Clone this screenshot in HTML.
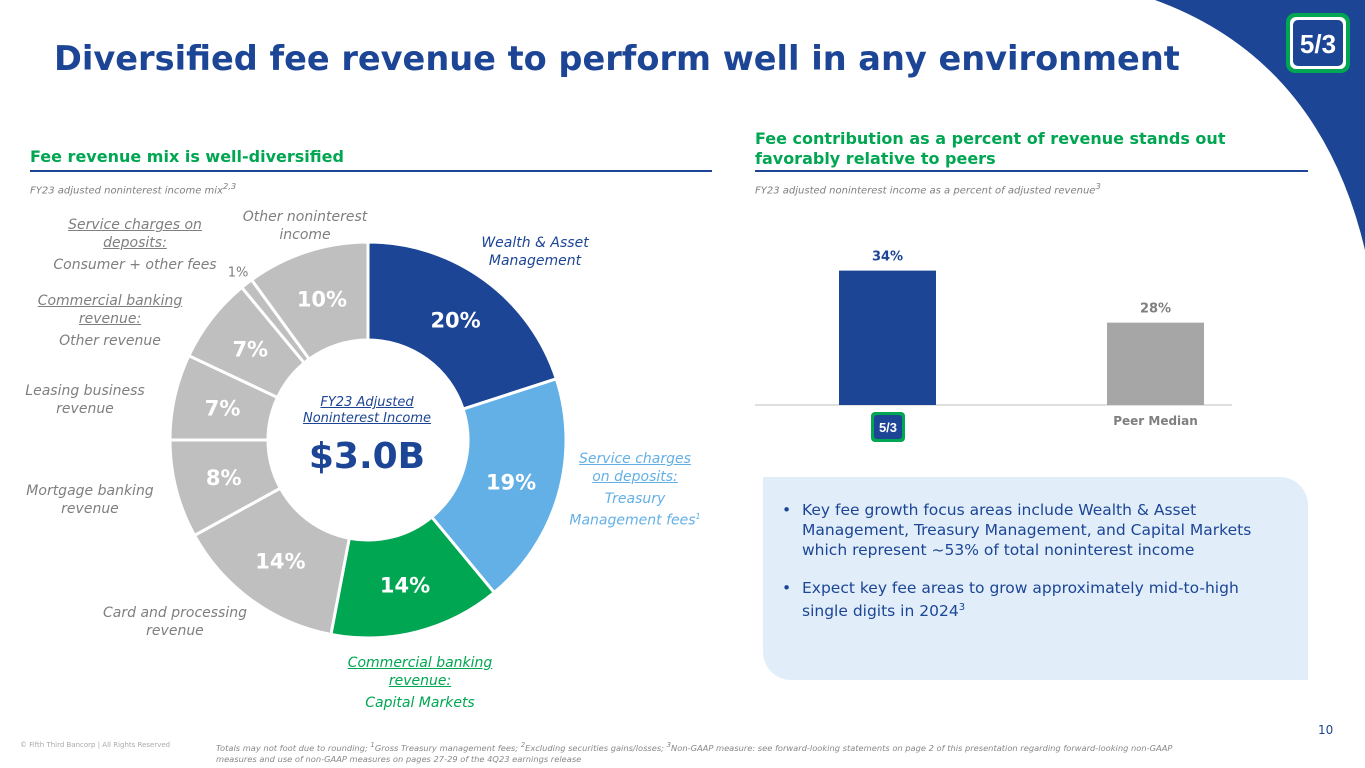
<!DOCTYPE html>
<html><head><meta charset="utf-8">
<style>
body{margin:0;width:1365px;height:768px;overflow:hidden;background:#fff;font-family:"DejaVu Sans","Liberation Sans",sans-serif;position:relative}
.a{position:absolute}
.g{color:#7f7f7f;font-style:italic;font-size:14px;text-align:center;line-height:18px}
.u{text-decoration:underline}
.bl{display:flex}
.bl>span:first-child{flex:0 0 20px}
</style></head><body>
<svg class="a" style="left:0;top:0" width="1365" height="768">
<path d="M1155,0 Q1320,60 1365,250 L1365,0 Z" fill="#1c4595"/>
<g>
<rect x="1286" y="13" width="64" height="60" rx="9" fill="#00a651"/>
<rect x="1290" y="17" width="56" height="52" rx="6" fill="#fff"/>
<rect x="1293" y="20" width="50" height="46" rx="5" fill="#1c4595"/>
<text x="1318" y="53" fill="#fff" font-size="26" font-weight="bold" text-anchor="middle" font-family="Liberation Sans">5/3</text>
</g>
</svg>
<div class="a" style="left:54px;top:39px;font-size:33.6px;font-weight:bold;color:#1c4595;white-space:nowrap">Diversified fee revenue to perform well in any environment</div>

<div class="a" style="left:30px;top:147px;font-size:16px;font-weight:bold;color:#00a651">Fee revenue mix is well-diversified</div>
<div class="a" style="left:30px;top:170px;width:682px;height:2px;background:#1c4595"></div>
<div class="a g" style="left:30px;top:177px;font-size:10px;text-align:left">FY23 adjusted noninterest income mix<sup>2,3</sup></div>

<div class="a" style="left:755px;top:129px;font-size:16px;font-weight:bold;color:#00a651;line-height:20px">Fee contribution as a percent of revenue stands out<br>favorably relative to peers</div>
<div class="a" style="left:755px;top:170px;width:553px;height:2px;background:#1c4595"></div>
<div class="a g" style="left:755px;top:177px;font-size:10px;text-align:left">FY23 adjusted noninterest income as a percent of adjusted revenue<sup>3</sup></div>

<svg id="donut" class="a" style="left:0;top:0" width="760" height="720"></svg>
<div class="a" style="left:290px;top:395px;width:154px;text-align:center;color:#1c4595;font-style:italic;font-size:13px;line-height:16px"><span class="u">FY23 Adjusted<br>Noninterest Income</span></div>
<div class="a" style="left:290px;top:436px;width:154px;text-align:center;color:#1c4595;font-weight:bold;font-size:36px">$3.0B</div>

<div class="a g" style="left:460px;top:234px;width:150px;color:#1c4595">Wealth &amp; Asset<br>Management</div>
<div class="a g" style="left:560px;top:450px;width:150px;color:#63b0e6"><span class="u">Service charges<br>on deposits:</span><div style="margin-top:4px">Treasury<br>Management fees<sup style="font-size:8px">1</sup></div></div>
<div class="a g" style="left:330px;top:654px;width:180px;color:#00a651"><span class="u">Commercial banking<br>revenue:</span><div style="margin-top:4px">Capital Markets</div></div>
<div class="a g" style="left:90px;top:604px;width:170px">Card and processing<br>revenue</div>
<div class="a g" style="left:10px;top:482px;width:160px">Mortgage banking<br>revenue</div>
<div class="a g" style="left:10px;top:382px;width:150px">Leasing business<br>revenue</div>
<div class="a g" style="left:20px;top:292px;width:180px"><span class="u">Commercial banking<br>revenue:</span><div style="margin-top:4px">Other revenue</div></div>
<div class="a g" style="left:40px;top:216px;width:190px"><span class="u">Service charges on<br>deposits:</span><div style="margin-top:4px">Consumer + other fees</div></div>
<div class="a g" style="left:225px;top:208px;width:160px">Other noninterest<br>income</div>

<svg id="bars" class="a" style="left:740px;top:230px" width="510" height="220"></svg>

<div class="a" style="left:763px;top:477px;width:545px;height:203px;background:#e1eef9;border-radius:0 28px 0 28px"></div>
<div class="a" style="left:782px;top:500px;width:500px;font-size:15.5px;color:#1c4595;line-height:20px">
<div class="bl"><span>•</span><span>Key fee growth focus areas include Wealth &amp; Asset Management, Treasury Management, and Capital Markets which represent ~53% of total noninterest income</span></div>
<div class="bl" style="margin-top:18px"><span>•</span><span>Expect key fee areas to grow approximately mid-to-high single digits in 2024<sup style="font-size:10px">3</sup></span></div>
</div>

<div class="a" style="left:1318px;top:723px;font-size:12px;color:#1c4595">10</div>
<div class="a" style="left:20px;top:741px;font-size:7px;color:#aaa">© Fifth Third Bancorp | All Rights Reserved</div>
<div class="a" style="left:216px;top:740px;font-size:8.3px;color:#888;font-style:italic;line-height:11px;width:980px">Totals may not foot due to rounding; <sup>1</sup>Gross Treasury management fees; <sup>2</sup>Excluding securities gains/losses; <sup>3</sup>Non-GAAP measure: see forward-looking statements on page 2 of this presentation regarding forward-looking non-GAAP measures and use of non-GAAP measures on pages 27-29 of the 4Q23 earnings release</div>

<script>
const sliceNames=['wealth','treasury','capital-markets','card','mortgage','leasing','commercial-other','consumer','other'];
const sliceValues=[20,19,14,14,8,7,7,1,10];
const sliceLabels=['20%','19%','14%','14%','8%','7%','7%','1%','10%'];
const sliceColors=['#1c4595','#63b0e6','#00a651','#bfbfbf','#bfbfbf','#bfbfbf','#bfbfbf','#bfbfbf','#bfbfbf'];
const NS='http://www.w3.org/2000/svg';
(function(){
 const svg=document.getElementById('donut');
 const cx=368,cy=440,R=198,r=100;
 const total=sliceValues.reduce((a,b)=>a+b,0);
 let acc=0;
 function pt(rad,f){const a=f*2*Math.PI-Math.PI/2;return [cx+rad*Math.cos(a),cy+rad*Math.sin(a)];}
 sliceValues.forEach((v,i)=>{
  const f0=acc/total,f1=(acc+v)/total;acc+=v;
  const [x0,y0]=pt(R,f0),[x1,y1]=pt(R,f1),[x2,y2]=pt(r,f1),[x3,y3]=pt(r,f0);
  const big=(f1-f0)>0.5?1:0;
  const p=document.createElementNS(NS,'path');
  p.setAttribute('d',`M${x0},${y0}A${R},${R} 0 ${big} 1 ${x1},${y1}L${x2},${y2}A${r},${r} 0 ${big} 0 ${x3},${y3}Z`);
  p.setAttribute('fill',sliceColors[i]);p.setAttribute('stroke','#fff');p.setAttribute('stroke-width','3');
  
  
  svg.appendChild(p);
  const small=v<3;
  const [tx,ty]=pt(small?R+14:(R+r)/2,(f0+f1)/2);
  const t=document.createElementNS(NS,'text');
  t.setAttribute('x',tx);t.setAttribute('y',ty+(small?4:8));t.setAttribute('text-anchor','middle');
  t.setAttribute('fill',small?'#7f7f7f':'#fff');t.setAttribute('font-size',small?'13':'21');t.setAttribute('font-weight',small?'normal':'bold');
  t.textContent=sliceLabels[i];
  
  
  svg.appendChild(t);
 });
})();

const barCategories=['Fifth Third','Peer Median'];
const barValues=[34,28];
const barLabels=['34%','28%'];
const barColors=['#1c4595','#a6a6a6'];
(function(){
 const svg=document.getElementById('bars');
 const base=175,yMin=18.5,pxPer=8.67;
 const y=v=>base-(v-yMin)*pxPer;
 const xs=[99,367],w=97;
 const ax=document.createElementNS(NS,'line');
 ax.setAttribute('x1',15);ax.setAttribute('x2',492);ax.setAttribute('y1',base);ax.setAttribute('y2',base);ax.setAttribute('stroke','#bfbfbf');
 
 
 svg.appendChild(ax);
 barValues.forEach((v,i)=>{
  const b=document.createElementNS(NS,'rect');
  b.setAttribute('x',xs[i]);b.setAttribute('y',y(v));b.setAttribute('width',w);b.setAttribute('height',base-y(v));b.setAttribute('fill',barColors[i]);
  
  
  svg.appendChild(b);
  const t=document.createElementNS(NS,'text');
  t.setAttribute('x',xs[i]+w/2);t.setAttribute('y',y(v)-10);t.setAttribute('text-anchor','middle');t.setAttribute('font-size','13');t.setAttribute('font-weight','bold');
  t.setAttribute('fill',i==0?'#1c4595':'#7f7f7f');t.textContent=barLabels[i];
  
  
  svg.appendChild(t);
 });
 const lg=document.createElementNS(NS,'g');
 
 
 lg.innerHTML='<rect x="131" y="182" width="34" height="30" rx="4" fill="#00a651"/><rect x="134" y="185" width="28" height="24" rx="3" fill="#1c4595"/><text x="148" y="202" fill="#fff" font-size="13" font-weight="bold" text-anchor="middle" font-family="Liberation Sans">5/3</text><title>'+barCategories[0]+'</title>';
 svg.appendChild(lg);
 const t2=document.createElementNS(NS,'text');
 t2.setAttribute('x',xs[1]+w/2);t2.setAttribute('y',195);t2.setAttribute('text-anchor','middle');t2.setAttribute('font-size','12');t2.setAttribute('font-weight','bold');t2.setAttribute('fill','#7f7f7f');
 t2.textContent=barCategories[1];
 
 
 svg.appendChild(t2);
})();
</script>
</body></html>
